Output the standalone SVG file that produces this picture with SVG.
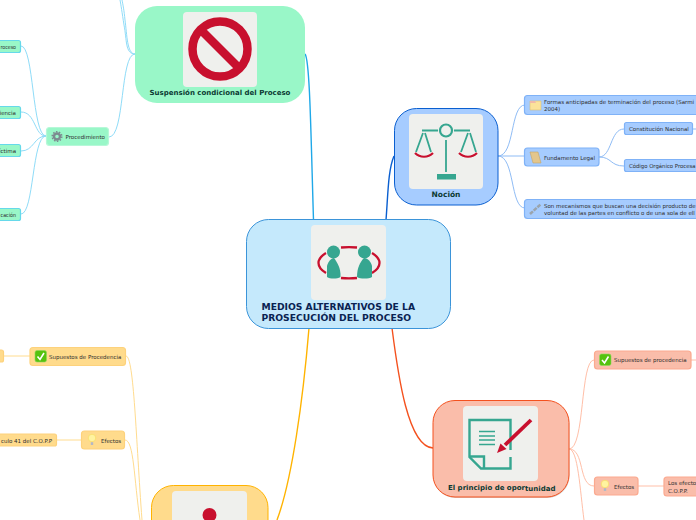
<svg xmlns="http://www.w3.org/2000/svg" width="696" height="520" viewBox="0 0 696 520">
<defs>
<g id="check"><rect width="11.500" height="11.500" rx="2" fill="#55c20f" stroke="#8fd65a" stroke-width=".6"/><path d="M2.500 6L5 9L9 2.500" fill="none" stroke="#fff" stroke-width="1.600"/></g>
<g id="bulb"><circle cx="0" cy="-2" r="3.800" fill="#fff3a0" stroke="#f7dc6a" stroke-width=".8"/><rect x="-1.200" y="2.200" width="2.400" height="2.800" fill="#b4b8c4"/></g>
</defs>
<style>
text{font-family:"DejaVu Sans",Verdana,sans-serif;font-size:5.500px;fill:#2e2e2e}
.t{font-weight:bold;font-size:7px;fill:#0b3a33}
.m{font-weight:bold;font-size:9.200px;fill:#0a2352}
.g{stroke:#8fdcf8;stroke-width:1;fill:none}
.b{stroke:#8fbcf5;stroke-width:1;fill:none}
.o{stroke:#ffbfa8;stroke-width:1;fill:none}
.y{stroke:#ffdc8f;stroke-width:1;fill:none}
.ng{fill:#99f7c8;stroke:#66d9ea;stroke-width:1.200}
.nb{fill:#a6ccff;stroke:#7fb2f7;stroke-width:1.200}
.no{fill:#fabdaa;stroke:#fba98f;stroke-width:1.200}
.ny{fill:#ffdb8c;stroke:#fdd27c;stroke-width:1.200}
.im{fill:#eff0ed}
.tl{fill:#36a690}
.tls{stroke:#36a690;fill:none}
.rd{stroke:#c8102e;fill:none}
</style>
<rect width="696" height="520" fill="#fff"/>
<g id="connectors">
<path d="M305 54C310 60 311 140 313.500 220" stroke="#1fa8e8" stroke-width="1.400" fill="none"/>
<path d="M394 156C388 170 388 195 386 220" stroke="#0a5fd0" stroke-width="1.400" fill="none"/>
<path d="M392 328C398 375 408 447 433 448" stroke="#f4511e" stroke-width="1.400" fill="none"/>
<path d="M309 328C303 400 292 480 277 520" stroke="#ffb300" stroke-width="1.400" fill="none"/>
<path class="g" d="M135 54C125 54 127 40 124 25C122 12 121 5 120 0"/>
<path class="g" d="M135 54C127 54 127 35 125 20C124 10 123 5 122 0"/>
<path class="g" d="M135 54C120 54 125 137 109 137"/>
<path class="g" d="M46 136C32 136 34 46 21 46"/>
<path class="g" d="M46 136C34 136 36 112 21 112"/>
<path class="g" d="M46 136C34 136 34 151 21 151"/>
<path class="g" d="M46 136C32 136 34 214 21 214"/>
<path class="b" d="M498 156C515 156 510 105 525 105"/>
<path class="b" d="M498 156H525" stroke-width="1.500"/>
<path class="b" d="M498 156C515 156 510 208 525 208"/>
<path class="b" d="M599 157C612 157 610 129 624 129"/>
<path class="b" d="M599 157C612 157 610 166 624 166"/>
<path class="b" d="M692 129H696"/>
<path class="o" d="M569 449C585 449 580 360 594 360"/>
<path class="o" d="M569 449C585 449 578 486 594 486"/>
<path class="o" d="M569 449C578 449 580 490 584 520"/>
<path class="o" d="M638 486H664"/>
<path class="o" d="M691 360H696"/>
<path class="y" d="M126 356C134 356 136 440 142 520"/>
<path class="y" d="M125 440C134 440 134 480 140 520"/>
<path class="y" d="M4 356H30"/>
<path class="y" d="M57 440H81"/>
</g>
<g id="central">
<rect x="246.500" y="219.500" width="204" height="109" rx="22" fill="#c5e9fc" stroke="#3b94d9"/>
<rect class="im" x="311" y="225" width="75" height="75" rx="4"/>
<path class="rd" stroke-width="2.300" d="M326 253C316 259 316 267 326 273M341 247.500C346 247 352 247 357 247.500M372 253C382 259 382 267 372 273M341 278C346 278.500 352 278.500 357 278"/>
<circle class="tl" cx="333.500" cy="252" r="6.500"/><circle class="tl" cx="364.500" cy="252" r="6.500"/>
<path class="tl" d="M327 277V266C328 262 331 258 334 258C337 262 341 268 340.500 277C337 279 330 279 327 277Z"/>
<path class="tl" d="M357 277C357 268 360 262 364 258C368 258 371 262 372 266V277C369 279 360 279 357 277Z"/>
<text class="m" x="261.500" y="310">MEDIOS ALTERNATIVOS DE LA</text>
<text class="m" x="261.500" y="321">PROSECUCIÓN DEL PROCESO</text>
</g>
<g id="suspension">
<rect x="135" y="6" width="170" height="97" rx="22" fill="#99f7c8"/>
<rect class="im" x="183" y="12" width="74" height="75" rx="4"/>
<circle class="rd" cx="220" cy="49" r="27.500" stroke-width="8.500"/>
<path class="rd" d="M201 30L239 68" stroke-width="8.500"/>
<text class="t" x="220" y="95" text-anchor="middle">Suspensión condicional del Proceso</text>
</g>
<g id="procedimiento">
<rect class="ng" x="46.500" y="127.500" width="62" height="18" rx="3" style="stroke:#b6f8d8"/>
<circle cx="57" cy="136.500" r="3" fill="none" stroke="#7d8a90" stroke-width="2.400"/>
<circle cx="57" cy="136.500" r="4.800" fill="none" stroke="#7d8a90" stroke-width="1.500" stroke-dasharray="1.500 1.500"/>
<text x="65.500" y="139">Procedimiento</text>
</g>
<g id="leaf1"><rect class="ng" x="-30" y="40.500" width="50.500" height="12" rx="2"/><text x="0.500" y="48.500" textLength="15.500" lengthAdjust="spacingAndGlyphs">roceso</text></g>
<g id="leaf2"><rect class="ng" x="-30" y="106.500" width="50.500" height="12" rx="2"/><text x="16" y="114.500" text-anchor="end">iencia</text></g>
<g id="leaf3"><rect class="ng" x="-30" y="144.500" width="50.500" height="12" rx="2"/><text x="16" y="153" text-anchor="end">íctima</text></g>
<g id="leaf4"><rect class="ng" x="-30" y="208.500" width="50.500" height="12" rx="2"/><text x="0.500" y="217" textLength="15.500" lengthAdjust="spacingAndGlyphs">cación</text></g>
<g id="nocion">
<rect x="394.500" y="108.500" width="103.500" height="96.500" rx="22" fill="#a6ccff" stroke="#0a5fd0"/>
<rect class="im" x="409" y="114" width="74" height="75" rx="4"/>
<circle class="tls" cx="446" cy="130.500" r="6" stroke-width="2.200"/>
<path class="tls" d="M422 130.500H438M454 130.500H470M446 140V172M423 133L416 152M425 133L431 152M468 133L461 152M470 133L476 152" stroke-width="1.800"/>
<rect class="tl" x="437" y="174" width="19" height="5.500"/>
<path class="rd" d="M415 153C420 158 428 158 433 153M459 153C464 158 472 158 477 153" stroke-width="2.200"/>
<text class="t" x="446" y="197" text-anchor="middle" style="font-size:7.500px">Noción</text>
</g>
<g id="formas">
<rect class="nb" x="524.500" y="95.500" width="190" height="19" rx="3"/>
<path d="M530 101H541V110H530Z" fill="#fbe39a" stroke="#d9c07a" stroke-width=".6"/><path d="M530 101H535L536 103H530Z" fill="#f1b9a8"/>
<text x="544" y="103.500">Formas anticipadas de terminación del proceso (Sarmi</text>
<text x="544" y="110.500">2004)</text>
</g>
<g id="fundamento">
<rect class="nb" x="524.500" y="148" width="74.500" height="18" rx="3"/>
<path d="M530 152H538L541 163H533Z" fill="#e3c68c" stroke="#c5a468" stroke-width=".6"/>
<text x="544" y="160">Fundamento Legal</text>
</g>
<g id="constitucion"><rect class="nb" x="624.500" y="122.500" width="68" height="12" rx="2"/><text x="629" y="131">Constitución Nacional</text></g>
<g id="codigo"><rect class="nb" x="624.500" y="159.500" width="90" height="12" rx="2"/><text x="629" y="168" textLength="66.500" lengthAdjust="spacingAndGlyphs">Código Orgánico Procesa</text></g>
<g id="mecanismos">
<rect class="nb" x="524.500" y="199.500" width="190" height="19" rx="3"/>
<path d="M530 214L541 204" stroke="#9aa4ad" stroke-width="2.500" fill="none" stroke-dasharray="4 1"/>
<text x="544" y="207.500">Son mecanismos que buscan una decisión producto de</text>
<text x="544" y="214.500">voluntad de las partes en conflicto o de una sola de ell</text>
</g>
<g id="principio">
<rect x="433.500" y="401.500" width="136" height="96.500" rx="22" fill="#888" opacity=".35"/>
<rect x="433" y="400.500" width="136" height="96.500" rx="22" fill="#fabdaa" stroke="#f4511e"/>
<rect class="im" x="463" y="406" width="75" height="75" rx="4"/>
<path class="tls" d="M510.500 450V420H469.500V457L481 468.500H510.500V457" stroke-width="2.400"/>
<path class="tls" d="M469.500 456.500H484V468" stroke-width="2.400"/>
<path class="tls" d="M479 431.500H495M479 436H495M479 440H495M479 444.500H495" stroke-width="1.300"/>
<path class="rd" d="M531 420L505 445" stroke-width="3.800"/>
<path d="M497 453L500.500 443.500L506.500 449Z" fill="#c8102e"/>
<text class="t" x="448" y="490">El principio de opor<tspan dy="1">tunidad</tspan></text>
</g>
<g id="supuestos-o">
<rect class="no" x="594.500" y="351" width="96.500" height="18" rx="3"/>
<use href="#check" x="599.500" y="354"/>
<text x="614" y="362">Supuestos de procedencia</text>
</g>
<g id="efectos-o">
<rect class="no" x="594.500" y="477" width="43.500" height="18" rx="3"/>
<use href="#bulb" x="605" y="486"/>
<text x="614" y="489">Efectos</text>
</g>
<g id="los-efectos">
<rect class="no" x="664" y="477" width="60" height="19" rx="3"/>
<text x="668" y="485">Los efecto</text><text x="668" y="492.500">C.O.P.P.</text>
</g>
<g id="consecuencia">
<rect x="151.500" y="485.500" width="116.500" height="60" rx="22" fill="#ffdb8c" stroke="#ffb300"/>
<rect class="im" x="172" y="491" width="75" height="40" rx="4"/>
<circle cx="209.500" cy="515" r="7" fill="#c8102e"/>
</g>
<g id="supuestos-y">
<rect class="ny" x="30" y="347.500" width="95.500" height="18" rx="3"/>
<use href="#check" x="35" y="350.500"/>
<text x="49" y="359">Supuestos de Procedencia</text>
</g>
<g id="leaf-y1"><rect class="ny" x="-30" y="350" width="33.500" height="12" rx="2"/></g>
<g id="efectos-y">
<rect class="ny" x="81.500" y="431" width="43" height="18" rx="3"/>
<use href="#bulb" x="92" y="440"/>
<text x="101" y="442.500">Efectos</text>
</g>
<g id="leaf-y2"><rect class="ny" x="-30" y="434" width="86.500" height="12" rx="2"/><text x="52" y="442.500" text-anchor="end">culo 41 del C.O.P.P</text></g>
</svg>
